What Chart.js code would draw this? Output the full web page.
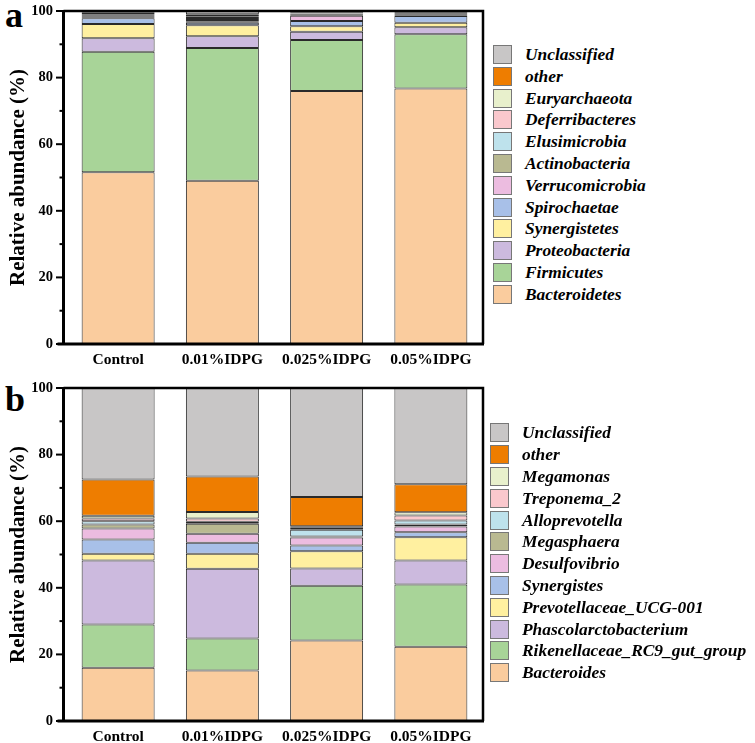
<!DOCTYPE html>
<html><head><meta charset="utf-8">
<script src="https://cdn.jsdelivr.net/npm/chart.js@4"></script>
<style>
body{margin:0;background:#fff;width:755px;height:743px;overflow:hidden;position:relative;font-family:"Liberation Serif","Times New Roman",serif;color:#000;}
.wrap{position:absolute;left:0;width:490px;}
#w1{top:0;height:375px}
#w2{top:377px;height:366px}
.panel{position:absolute;font-weight:bold;font-size:36px;line-height:1;}
.legend{position:absolute;}
.item{height:21.8px;display:flex;align-items:center;}
.box{width:19.5px;height:19px;box-sizing:border-box;border:1px solid #777;margin-right:13px;flex:none;}
.lab{font-style:italic;font-weight:bold;font-size:17.4px;white-space:nowrap;}
</style></head>
<body>
<div class="panel" style="left:5px;top:-3px">a</div>
<div class="panel" style="left:5px;top:381px">b</div>
<div class="wrap" id="w1"><canvas id="c1"></canvas></div>
<div class="wrap" id="w2"><canvas id="c2"></canvas></div>
<div class="legend" id="lg1" style="left:492.5px;top:43.6px"></div>
<div class="legend" id="lg2" style="left:489.5px;top:422px"></div>
<script>
// ---- data ----
const groups = ['Control','0.01%IDPG','0.025%IDPG','0.05%IDPG'];
const yTicks = [0,20,40,60,80,100];

const phylumNames = ['Bacteroidetes','Firmicutes','Proteobacteria','Synergistetes','Spirochaetae','Verrucomicrobia','Actinobacteria','Elusimicrobia','Deferribacteres','Euryarchaeota','other','Unclassified'];
const bacteroidetes   = [51.6,49.0,76.0,76.7];
const firmicutes      = [36.2,39.9,15.3,16.3];
const proteobacteria  = [4.0,3.5,2.5,2.1];
const synergistetes   = [4.3,3.3,1.6,1.4];
const spirochaetae    = [1.7,0.8,1.6,2.0];
const verrucomicrobia = [0.3,0.4,1.6,0.2];
const actinobacteria  = [0.3,0.4,0.2,0.1];
const elusimicrobia   = [0.2,0.3,0.2,0.2];
const deferribacteres = [0.3,0.3,0.2,0.1];
const euryarchaeota   = [0.2,0.5,0.1,0.1];
const otherPhylum     = [0.5,0.6,0.3,0.3];
const unclassifiedPhylum = [0.4,1.0,0.4,0.5];

const genusNames = ['Bacteroides','Rikenellaceae_RC9_gut_group','Phascolarctobacterium','Prevotellaceae_UCG-001','Synergistes','Desulfovibrio','Megasphaera','Alloprevotella','Treponema_2','Megamonas','other','Unclassified'];
const bacteroides           = [16.0,15.2,24.2,22.3];
const rikenellaceae         = [13.0,9.6,16.4,18.7];
const phascolarctobacterium = [19.2,20.9,5.2,7.2];
const prevotellaceae        = [2.0,4.5,5.2,7.0];
const synergistes           = [4.3,3.3,1.7,1.5];
const desulfovibrio         = [3.3,2.7,2.4,1.7];
const megasphaera           = [1.2,3.0,0.3,0.6];
const alloprevotella        = [1.0,0.6,2.0,1.2];
const treponema2            = [0.8,1.0,0.6,1.5];
const megamonas             = [0.8,2.0,0.5,1.0];
const otherGenus            = [10.9,10.6,8.8,8.4];
const unclassifiedGenus     = [27.5,26.6,32.7,28.9];

const colors = ['#facc9e','#a8d498','#ccbade','#fff0a0','#a8c0e8','#ecbce0','#b9b991','#bee2ec','#fac8cd','#e8f0cc','#ee7d00','#c8c6c6'];

const phylumData = [bacteroidetes,firmicutes,proteobacteria,synergistetes,spirochaetae,verrucomicrobia,actinobacteria,elusimicrobia,deferribacteres,euryarchaeota,otherPhylum,unclassifiedPhylum];
const genusData = [bacteroides,rikenellaceae,phascolarctobacterium,prevotellaceae,synergistes,desulfovibrio,megasphaera,alloprevotella,treponema2,megamonas,otherGenus,unclassifiedGenus];

const SERIF = '"Liberation Serif","Times New Roman",serif';

const framePlugin = {
  id:'frame',
  afterDraw(chart){
    const {ctx, chartArea:a, scales:{y}} = chart;
    const ax = a.left - 2.5;
    ctx.save();
    ctx.strokeStyle = '#000';
    ctx.lineWidth = 2;
    for (let v = 10; v < 100; v += 20){
      const py = y.getPixelForValue(v);
      ctx.beginPath(); ctx.moveTo(ax-4, py); ctx.lineTo(ax, py); ctx.stroke();
    }
    yTicks.forEach(v=>{
      const py = y.getPixelForValue(v);
      ctx.beginPath(); ctx.moveTo(ax-7.5, py); ctx.lineTo(ax, py); ctx.stroke();
    });
    ctx.lineWidth = 2.5;
    ctx.beginPath(); ctx.moveTo(ax, a.top); ctx.lineTo(a.right, a.top); ctx.lineTo(a.right, a.bottom); ctx.stroke();
    ctx.lineWidth = 3;
    ctx.beginPath(); ctx.moveTo(ax, a.top-1); ctx.lineTo(ax, a.bottom); ctx.stroke();
    ctx.beginPath(); ctx.moveTo(ax-6, a.bottom); ctx.lineTo(a.right+1, a.bottom); ctx.stroke();
    ctx.restore();
  }
};

function makeChart(id, names, data, H){
  const datasets = names.map((n,i)=>({
    label:n, data:data[i], backgroundColor:colors[i], borderColor:'#2a2a2a', borderWidth:1,
    borderSkipped:false, categoryPercentage:1, barPercentage:0.7
  }));
  return new Chart(document.getElementById(id), {
    type:'bar',
    data:{labels:groups, datasets},
    options:{
      responsive:true, maintainAspectRatio:false, animation:false,
      layout:{padding:{top:11,right:7,left:0,bottom:0}},
      plugins:{legend:{display:false}, tooltip:{enabled:false}},
      scales:{
        x:{stacked:true, grid:{display:false,drawTicks:false}, border:{display:false},
           ticks:{color:'#000', font:{family:SERIF,size:15.5,weight:'bold'}, padding:7, maxRotation:0, autoSkip:false},
           afterFit(s){ s.height = H - 344; s.paddingLeft = 0; s.paddingRight = 0; }},
        y:{stacked:true, min:0, max:100,
           grid:{display:false,drawTicks:false}, border:{display:false},
           afterBuildTicks(s){ s.ticks = yTicks.map(v=>({value:v})); },
           ticks:{color:'#000', font:{family:SERIF,size:14.5,weight:'bold'}, padding:13},
           title:{display:true, text:'Relative abundance (%)', color:'#000', font:{family:SERIF,size:21,weight:'bold'}, padding:{top:6,bottom:0}},
           afterFit(s){ s.width = 66; s.paddingTop = 0; s.paddingBottom = 0; }}
      }
    },
    plugins:[framePlugin]
  });
}

function makeLegend(id, names){
  const el = document.getElementById(id);
  for (let i = names.length-1; i >= 0; i--){
    const it = document.createElement('div'); it.className='item';
    const b = document.createElement('div'); b.className='box'; b.style.background = colors[i];
    const t = document.createElement('div'); t.className='lab'; t.textContent = names[i];
    it.appendChild(b); it.appendChild(t); el.appendChild(it);
  }
}

makeChart('c1', phylumNames, phylumData, 375);
makeChart('c2', genusNames, genusData, 366);
makeLegend('lg1', phylumNames);
makeLegend('lg2', genusNames);
</script>
</body></html>
